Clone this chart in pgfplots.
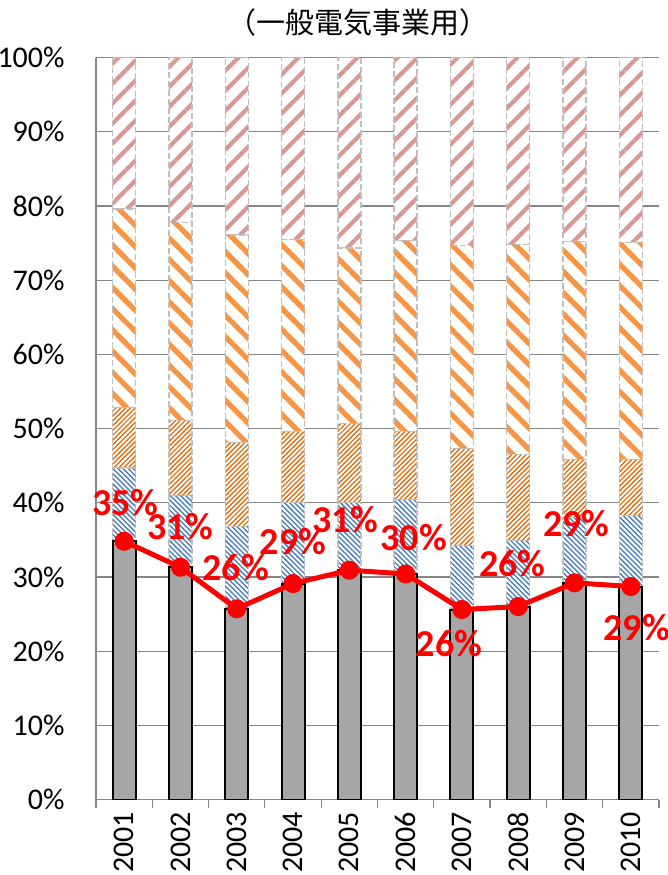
\documentclass[border=0pt]{standalone}
\usepackage{pgfplots}
\usepackage{pgfplotstable}
\pgfplotsset{compat=1.18}
\usetikzlibrary{patterns.meta}
\usepackage{fontspec}
\setmainfont{Carlito}
\newfontfamily\cjk{Noto Sans CJK JP}
\definecolor{gridgray}{HTML}{868686}
\definecolor{bargray}{HTML}{A6A6A6}
\definecolor{pblue}{HTML}{4F81BD}
\definecolor{porange}{HTML}{E46C0A}
\definecolor{plorange}{HTML}{F79646}
\definecolor{ppink}{HTML}{D99694}
\definecolor{edgegray}{HTML}{BFBFBF}

\pgfplotstableread{
x g b d s p
0 34.8 9.9 8.1 26.8 20.4
1 31.3 9.7 10.1 26.7 22.2
2 25.7 11.1 11.3 28.0 23.9
3 29.1 10.9 9.6 25.9 24.5
4 30.9 9.1 10.7 23.6 25.7
5 30.4 10.0 9.2 25.7 24.7
6 25.6 8.6 13.1 27.4 25.3
7 26.0 8.9 11.6 28.3 25.2
8 29.2 8.8 7.8 29.4 24.8
9 28.7 9.6 7.5 29.3 24.9
}\data

\begin{document}
\begin{tikzpicture}
\pgfplotsset{
  base/.style={
    scale only axis, width=281.5pt, height=371pt,
    xmin=-0.5, xmax=9.5, ymin=0, ymax=100,
  },
  pat/.style={draw=none,
     preaction={fill=white},
     postaction={draw=edgegray, line width=0.7pt, dash pattern=on 3pt off 1.5pt}},
}
\begin{axis}[base,
  ybar stacked, bar width=11.5pt,
  axis lines*=left,
  axis line style={draw=gridgray, line width=0.6pt},
  ymajorgrids, grid style={draw=gridgray, line width=0.6pt},
  ytick={0,10,...,100},
  yticklabel={\pgfmathprintnumber{\tick}\%},
  xtick={0,...,9},
  xticklabels={2001,2002,2003,2004,2005,2006,2007,2008,2009,2010},
  minor xtick={-0.5,0.5,...,9.5},
  major tick length=0pt, minor tick length=4pt, tick align=outside,
  tick style={draw=gridgray, line width=0.6pt},
  ytick style={draw=none},
  /pgf/number format/assume math mode=true,
  tick label style={font=\fontsize{15}{18}\selectfont},
  yticklabel style={anchor=east, inner sep=0pt, xshift=-15.5pt},
  xticklabel style={yshift=-6pt, rotate=90, anchor=east, inner sep=0pt},
]
\addplot[fill=bargray, draw=black, line width=1pt] table[x=x,y=g]{\data};
\addplot[pat, pattern={Lines[angle=-45,distance=1.8pt,line width=0.55pt]}, pattern color=pblue] table[x=x,y=b]{\data};
\addplot[pat, pattern={Lines[angle=45,distance=1.7pt,line width=0.5pt]}, pattern color=porange] table[x=x,y=d]{\data};
\addplot[pat, pattern={Lines[angle=-45,distance=7.5pt,line width=2.5pt]}, pattern color=plorange] table[x=x,y=s]{\data};
\addplot[pat, pattern={Lines[angle=45,distance=6.9pt,line width=2.1pt]}, pattern color=ppink] table[x=x,y=p]{\data};
\end{axis}
\begin{axis}[base, hide axis, clip=false]
\addplot[color=red, line width=2.5pt, mark=*, mark size=3.5pt, mark options={fill=red, draw=red}] table[x=x,y=g]{\data};
\tikzset{lbl/.style={font=\fontsize{19}{22}\selectfont\bfseries, text=red, inner sep=0pt, anchor=center}}
\node[lbl, xshift=0.5pt, yshift=19.5pt] at (axis cs:0,34.8) {35\%};
\node[lbl, xshift=0pt, yshift=20.5pt] at (axis cs:1,31.3) {31\%};
\node[lbl, xshift=-0.5pt, yshift=20.5pt] at (axis cs:2,25.7) {26\%};
\node[lbl, xshift=0pt, yshift=21pt] at (axis cs:3,29.1) {29\%};
\node[lbl, xshift=-2pt, yshift=25.5pt] at (axis cs:4,30.9) {31\%};
\node[lbl, xshift=4pt, yshift=18pt] at (axis cs:5,30.4) {30\%};
\node[lbl, xshift=-6.5pt, yshift=-17pt] at (axis cs:6,25.6) {26\%};
\node[lbl, xshift=-3pt, yshift=21.5pt] at (axis cs:7,26.0) {26\%};
\node[lbl, xshift=1pt, yshift=29.5pt] at (axis cs:8,29.2) {29\%};
\node[lbl, xshift=3pt, yshift=-20.5pt] at (axis cs:9,28.7) {29\%};
\node[font=\cjk\fontsize{14.5}{17}\selectfont, anchor=center] at (rel axis cs:0,1) [xshift=131pt, yshift=17.75pt] {（一般電気事業用）};
\end{axis}
\pgfresetboundingbox
\path[use as bounding box] (-48pt,-37.75pt) rectangle (286pt,399.75pt);
\end{tikzpicture}
\end{document}
